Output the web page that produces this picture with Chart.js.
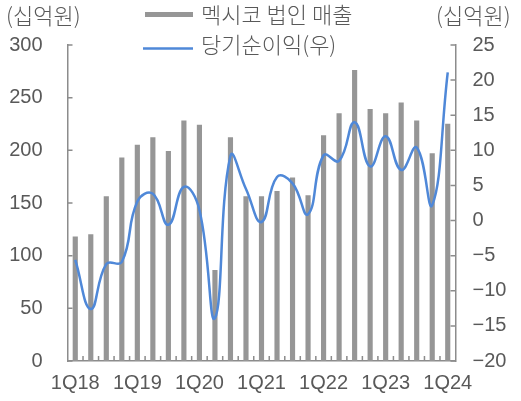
<!DOCTYPE html>
<html><head><meta charset="utf-8">
<script src="https://cdn.jsdelivr.net/npm/chart.js@4/dist/chart.umd.min.js"></script>
<style>html,body{margin:0;padding:0;background:#fff;}#wrap{width:521px;height:401px;position:relative}</style>
</head><body><div id="wrap"><canvas id="c" width="521" height="401"></canvas></div>
<script>
const categories = ['1Q18','2Q18','3Q18','4Q18','1Q19','2Q19','3Q19','4Q19','1Q20','2Q20','3Q20','4Q20','1Q21','2Q21','3Q21','4Q21','1Q22','2Q22','3Q22','4Q22','1Q23','2Q23','3Q23','4Q23','1Q24'];
const salesMexico = [118,120,156,193,205,212,199,228,224,86,212,156,156,161,174,157,214,235,276,239,235,245,228,197,225];
const netIncome = [-5.6,-12.6,-6.2,-5.9,2.7,3.8,-0.6,4.8,1.5,-13.9,9.2,4.5,-0.2,6.2,5.3,0.9,9.3,8.5,14.0,7.7,12.0,7.2,10.4,2.2,21.1];
const salesLabel = '멕시코 법인 매출';
const incomeLabel = '당기순이익(우)';
const unitLabel = '(십억원)';
const leftAxis = {min:0, max:300, step:50};
const rightAxis = {min:-20, max:25, step:5};

const TXT = '#595959', AX = '#8c8c8c';
const BAR = '#969696', LINE = '#4f88d8';
const NUMFONT = 'Liberation Sans, Arial, sans-serif';
const KFONT = '"Noto Sans CJK KR", sans-serif';

const decor = {
  id:'decor',
  beforeDatasetsDraw(chart){
    const ctx = chart.ctx, a = chart.chartArea;
    const yl = chart.scales.y, yr = chart.scales.y1, x = chart.scales.x;
    ctx.save();
    ctx.strokeStyle = AX; ctx.lineWidth = 1.5;
    ctx.beginPath();
    yl.ticks.forEach(t=>{const p=yl.getPixelForValue(t.value); ctx.moveTo(a.left, p); ctx.lineTo(a.left+5, p);});
    yr.ticks.forEach(t=>{const p=yr.getPixelForValue(t.value); ctx.moveTo(a.right, p); ctx.lineTo(a.right-5, p);});
    const n = categories.length;
    for(let i=1;i<n;i++){
      const p = (x.getPixelForValue(i-1)+x.getPixelForValue(i))/2;
      ctx.moveTo(p, a.bottom); ctx.lineTo(p, a.bottom-5);
    }
    ctx.stroke();
    ctx.restore();
  },
  afterDraw(chart){
    const ctx = chart.ctx;
    ctx.save();
    ctx.fillStyle = TXT;
    ctx.font = '300 22px ' + KFONT;
    ctx.textBaseline = 'middle';
    ctx.textAlign = 'left';
    ctx.fillText(unitLabel, 6, 16);
    ctx.fillText(unitLabel, 436, 16);
    // legend
    const ds = chart.data.datasets;
    ctx.fillStyle = ds[0].backgroundColor;
    ctx.fillRect(145, 12, 48, 5);
    ctx.strokeStyle = ds[1].borderColor; ctx.lineWidth = 2.5;
    ctx.beginPath(); ctx.moveTo(143, 48.5); ctx.lineTo(193, 48.5); ctx.stroke();
    ctx.fillStyle = TXT;
    ctx.font = '300 22px ' + KFONT;
    ctx.fillText(ds[0].label, 201, 15);
    ctx.fillText(ds[1].label, 201, 45);
    ctx.restore();
  }
};

const fmt = v => v < 0 ? '\u2212' + Math.abs(v) : String(v);

new Chart(document.getElementById('c'), {
  data: {
    labels: categories,
    datasets: [
      {type:'bar', label: salesLabel, data: salesMexico, backgroundColor: BAR, barThickness: 4.5, yAxisID:'y', order:2},
      {type:'line', label: incomeLabel, data: netIncome, borderColor: LINE, backgroundColor: LINE, borderWidth: 2.5, pointRadius: 0, tension: 0.45, yAxisID:'y1', order:1, clip:false}
    ]
  },
  options: {
    responsive:false, animation:false, devicePixelRatio:1,
    layout:{padding:{top:45,left:0,right:0,bottom:0}},
    plugins:{legend:{display:false}, tooltip:{enabled:false}},
    scales:{
      x:{
        offset:true,
        grid:{display:false, drawTicks:false},
        border:{color:AX, width:1.5},
        ticks:{autoSkip:false, maxRotation:0, minRotation:0, padding:10, color:TXT, font:{family:NUMFONT, size:20},
          callback:(v,i)=> i%4===0 ? categories[i] : ''},
        afterFit(s){ s.height = 40; s.paddingLeft=0; s.paddingRight=0; }
      },
      y:{
        position:'left', min:leftAxis.min, max:leftAxis.max,
        grid:{display:false, drawTicks:false},
        border:{color:AX, width:1.5},
        ticks:{stepSize:leftAxis.step, padding:25, color:TXT, font:{family:NUMFONT, size:20}, callback:fmt},
        afterFit(s){ s.width = 67.5; s.paddingTop=0; s.paddingBottom=0; }
      },
      y1:{
        position:'right', min:rightAxis.min, max:rightAxis.max,
        grid:{display:false, drawTicks:false},
        border:{color:AX, width:1.5},
        ticks:{stepSize:rightAxis.step, padding:17, color:TXT, font:{family:NUMFONT, size:20}, callback:fmt},
        afterFit(s){ s.width = 65.5; s.paddingTop=0; s.paddingBottom=0; }
      }
    }
  },
  plugins:[decor]
});
</script>
</body></html>
